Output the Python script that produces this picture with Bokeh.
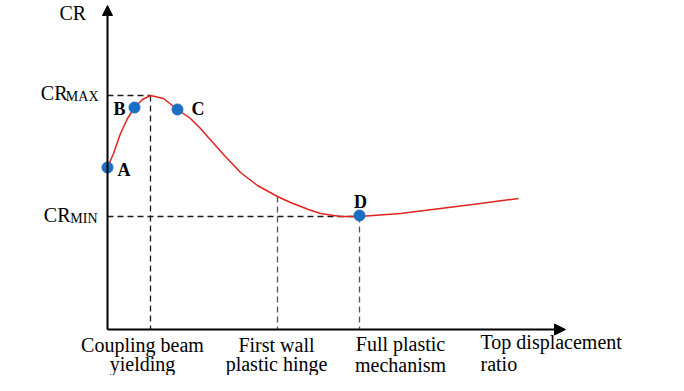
from bokeh.plotting import figure
from bokeh.models import Range1d, Arrow, NormalHead
from bokeh.core.properties import value
from bokeh.embed import file_html
from bokeh.resources import INLINE

# ---- data (abstract units: displacement ratio on x, CR on y) ----
disp = [0, 6, 13, 20, 27, 35, 43, 56, 70, 83, 93, 100, 116, 133, 150, 170,
        183, 201, 213, 233, 252, 293, 333, 373, 411]
cr = [162, 176, 196, 211, 222, 230, 234, 231, 220, 211, 201, 193, 175, 157,
      144, 133, 127, 120, 116, 113, 113, 116, 121, 126, 131]

pt_names = ["A", "B", "C", "D"]
pt_x = [0, 27, 70, 252]
pt_y = [162, 222, 220, 114]

CR_MAX = 234
CR_MIN = 113
x_peak = 43          # coupling beam yielding
x_hinge = 170        # first wall plastic hinge
cr_hinge = 133
x_mech = 252         # full plastic mechanism
X_AXIS_END = 458
Y_AXIS_END = 324

FONT = value("Liberation Serif")
Y_TOP = 329          # data value at the top edge of the canvas


def ty(baseline_px, fs):
    """data y for a text whose alphabetic baseline should sit at baseline_px (canvas px)."""
    return Y_TOP - baseline_px + 0.33 * fs


p = figure(width=668, height=375, output_backend="svg", toolbar_location=None,
           x_range=Range1d(-107, 561), y_range=Range1d(Y_TOP - 375, Y_TOP),
           min_border=0, outline_line_color=None)
p.axis.visible = False
p.grid.visible = False

# axes with arrows
p.add_layout(Arrow(x_start=0, y_start=0, x_end=X_AXIS_END, y_end=0, line_width=2,
                   line_color="black",
                   end=NormalHead(size=11, fill_color="black", line_color="black", line_width=1)))
p.add_layout(Arrow(x_start=0, y_start=0, x_end=0, y_end=Y_AXIS_END, line_width=2,
                   line_color="black",
                   end=NormalHead(size=10, fill_color="black", line_color="black", line_width=1)))

# dashed reference lines
p.segment(x0=[0, x_peak, 0], y0=[CR_MAX, CR_MAX, CR_MIN],
          x1=[x_peak, x_peak, x_mech], y1=[CR_MAX, 0, CR_MIN],
          line_color="#1a1a1a", line_width=1.3, line_dash="6 4")
p.segment(x0=[x_hinge, x_mech], y0=[cr_hinge, CR_MIN], x1=[x_hinge, x_mech], y1=[0, 0],
          line_color="#555555", line_width=1.3, line_dash="6 4")

# curve
p.line(disp, cr, line_color="#e0231e", line_width=1.5, line_join="round")

# points
p.scatter(pt_x, pt_y, size=11, fill_color="#1b6ec2", line_color="#1b6ec2")

# point labels
p.text(x=[10, 6, 84], y=[ty(175, 18), ty(114, 18), ty(114, 18)], text=pt_names[:3],
       text_font=FONT, text_font_style="bold", text_font_size="18px",
       text_color="black", text_align="left", text_baseline="alphabetic")
p.text(x=[253], y=[ty(207, 18)], text=pt_names[3:], text_font=FONT, text_font_style="bold",
       text_font_size="18px", text_color="black", text_align="center",
       text_baseline="alphabetic")

# y labels
p.text(x=[-48], y=[ty(19, 20)], text=["CR"], text_font=FONT, text_font_size="20px",
       text_align="left", text_baseline="alphabetic")
p.text(x=[-40, -37], y=[ty(99, 20), ty(221, 20)], text=["CR", "CR"], text_font=FONT,
       text_font_size="20px", text_align="right", text_baseline="alphabetic")
p.text(x=[-9, -10], y=[ty(101, 14), ty(223, 14)], text=["MAX", "MIN"], text_font=FONT,
       text_font_size="14px", text_align="right", text_baseline="alphabetic")

# x labels
xl_x = [35, 35, 169, 169, 293, 293]
xl_y = [ty(351, 20), ty(370.5, 20), ty(351, 20), ty(370.5, 20), ty(350, 20), ty(371, 20)]
xl_t = ["Coupling beam", "yielding", "First wall", "plastic hinge", "Full plastic", "mechanism"]
p.text(x=xl_x, y=xl_y, text=xl_t, text_font=FONT, text_font_size="20px",
       text_align="center", text_baseline="alphabetic")
p.text(x=[373, 373], y=[ty(348, 20), ty(370, 20)], text=["Top displacement", "ratio"],
       text_font=FONT, text_font_size="20px", text_align="left", text_baseline="alphabetic")

open("out.html", "w").write(file_html(p, INLINE))
